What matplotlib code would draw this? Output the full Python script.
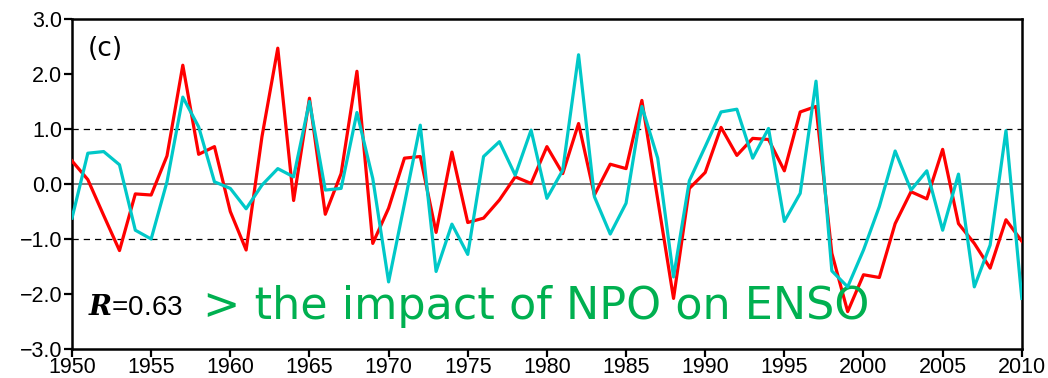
import numpy as np
import matplotlib
matplotlib.use("Agg")
import matplotlib.pyplot as plt

# 年（1950-2010）
years = np.arange(1950, 2011)

# 赤線の指数
red_index = [
    0.42, 0.08, -0.57, -1.21, -0.18, -0.20, 0.51, 2.16, 0.54, 0.68,
    -0.50, -1.20, 0.86, 2.47, -0.30, 1.56, -0.55, 0.19, 2.05, -1.08,
    -0.44, 0.47, 0.50, -0.88, 0.58, -0.70, -0.62, -0.29, 0.13, 0.01,
    0.68, 0.19, 1.10, -0.20, 0.36, 0.28, 1.52, -0.28, -2.08, -0.08,
    0.21, 1.03, 0.52, 0.83, 0.81, 0.24, 1.31, 1.41, -1.26, -2.32,
    -1.65, -1.70, -0.72, -0.14, -0.27, 0.63, -0.72, -1.08, -1.53, -0.65,
    -1.04,
]

# 水色線の指数
cyan_index = [
    -0.62, 0.56, 0.59, 0.35, -0.84, -1.00, 0.04, 1.58, 1.04, 0.04,
    -0.08, -0.45, -0.02, 0.28, 0.13, 1.50, -0.11, -0.08, 1.30, 0.10,
    -1.78, -0.36, 1.07, -1.59, -0.73, -1.28, 0.50, 0.77, 0.16, 0.98,
    -0.26, 0.25, 2.35, -0.23, -0.91, -0.35, 1.41, 0.47, -1.69, 0.06,
    0.68, 1.31, 1.36, 0.47, 1.01, -0.68, -0.17, 1.87, -1.58, -1.87,
    -1.20, -0.41, 0.60, -0.11, 0.24, -0.84, 0.18, -1.87, -1.11, 0.97,
    -2.08,
]

corr_r = 0.63

x_ticks = np.arange(1950, 2011, 5)
y_ticks = np.arange(-3, 3.1, 1.0)

plt.rcParams["mathtext.fontset"] = "dejavuserif"

fig = plt.figure(figsize=(10.48, 3.78), dpi=100)
ax = fig.add_axes([0.0687, 0.0767, 0.9063, 0.873])

# 基準線
ax.axhline(0, color="#555555", lw=1.1, zorder=1)
ax.axhline(1, color="black", lw=0.9, ls=(0, (5, 4)), zorder=1)
ax.axhline(-1, color="black", lw=0.9, ls=(0, (5, 4)), zorder=1)

ax.plot(years, red_index, color="#ff0000", lw=2.3, zorder=3)
ax.plot(years, cyan_index, color="#00c8c8", lw=2.3, zorder=4)

ax.set_xlim(1950, 2010)
ax.set_ylim(-3, 3)
ax.set_xticks(x_ticks)
ax.set_yticks(y_ticks)
ax.set_yticklabels([f"{v:.1f}".replace("-", "\u2212") for v in y_ticks])

for s in ax.spines.values():
    s.set_linewidth(1.8)
ax.tick_params(direction="out", length=6, width=1.6, labelsize=15.5, pad=1)
ax.tick_params(axis="x", pad=0)
for lab in ax.get_xticklabels() + ax.get_yticklabels():
    lab.set_family("Liberation Sans")

ax.text(1951.0, 2.45, "(c)", fontsize=19, family="DejaVu Sans", va="center")
ax.text(1951.0, -2.25, r"$\boldsymbol{R}$" + f"={corr_r:.2f}",
        fontsize=20, va="center", family="Liberation Sans")
ax.text(1958.3, -2.22, "> the impact of NPO on ENSO", fontsize=32,
        color="#00b050", va="center", family="DejaVu Sans")

fig.savefig("out.png", dpi=100)
